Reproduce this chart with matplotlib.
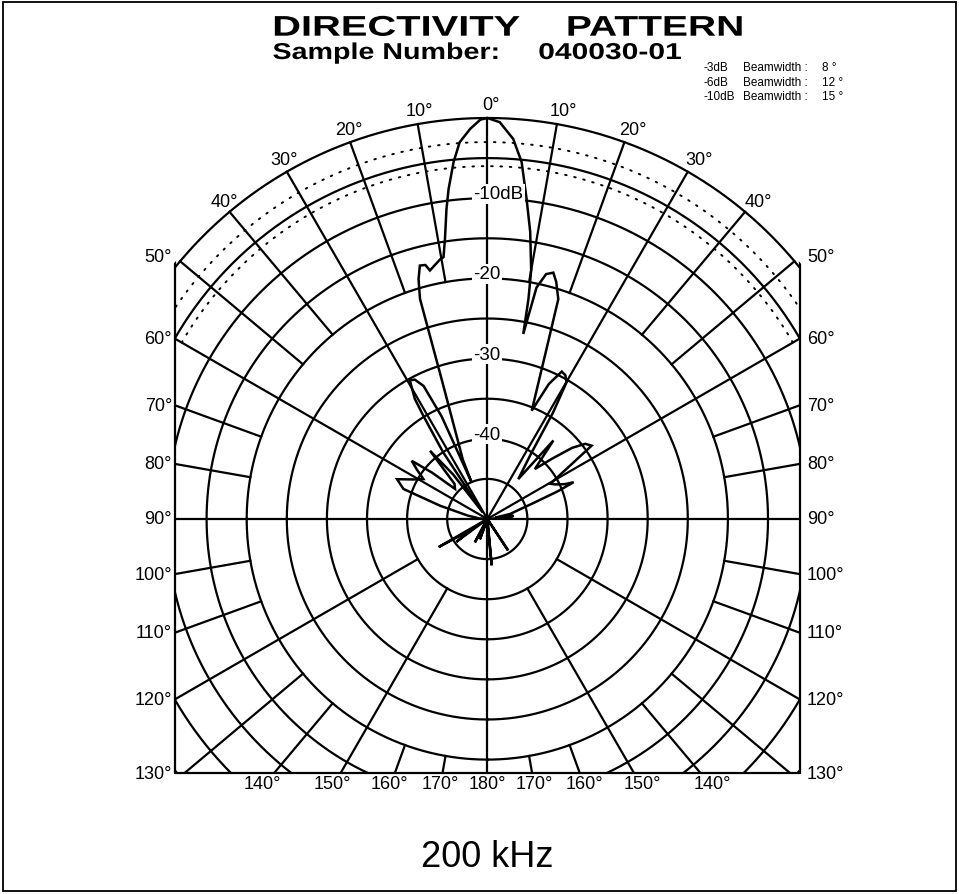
import numpy as np
import matplotlib
matplotlib.use("Agg")
import matplotlib.pyplot as plt
from matplotlib.patches import Rectangle, Circle
from matplotlib.patheffects import AbstractPathEffect
from matplotlib.transforms import Affine2D, IdentityTransform

# ---------------- data ----------------
pattern_angle_deg = [
    -180, -164, -160, -157, -154.5, -152, -149.5, -130, -126.5, -123.5, -120, -117,
    -95, -86, -80, -74.3, -70.3, -66.2, -62, -58, -55, -52.4, -50, -47, -43, -40,
    -37.5, -35, -33.5, -31.8, -31.1, -29.2, -27.5, -25.6, -24.0, -23.2, -22.4,
    -18.1, -17, -16, -14.9, -13.7, -13, -11.5, -10.3, -9.5, -8.6, -7.5, -6.7,
    -5.4, -4.2, -2.5, -1, 0, 1.8, 3.9, 5.5, 7.0, 8.5, 10.0, 10.6, 11.0, 12.0,
    13.5, 15.0, 16.2, 17.9, 19.4, 22.3, 24.5, 26.8, 28.5, 30.1, 31.7, 33.8,
    37.8, 40.1, 43.6, 47, 50, 52.5, 54.9, 57, 60.8, 63, 65.8, 66.9, 68.5, 71,
    74, 77.6, 80, 82.8, 85.5, 88, 143, 146.5, 149, 172, 174.6, 177, 180,
]
pattern_level_db = [
    -50, -50, -47.3, -50, -50, -46.7, -50, -50, -45.2, -47.5, -43, -50,
    -50, -49, -47.5, -43.9, -38.9, -37.7, -39.5, -40.6, -39.3, -38.1, -41, -44.5, -44, -38.9,
    -43, -49, -40, -34.9, -32.5, -30.2, -30.4, -31.6, -36, -45, -42,
    -31.7, -21.3, -18.9, -17.3, -17.4, -18.2, -17.6, -17.1, -16.9, -14.7, -11, -8.6,
    -5.3, -2.9, -1.3, -0.2, 0, -0.5, -2.5, -5.3, -9.8, -13.8, -18.5, -22.1, -26.5, -20.5,
    -18.6, -18.2, -19.2, -21.2, -28.3, -35.4, -31.5, -29.4, -29.6, -30.3, -34.4, -40.2,
    -43.7, -37.2, -41.4, -39, -36.2, -34.6, -34.1, -37.5, -41, -40.5, -39.4, -38.3, -40.5, -44,
    -46, -47.1, -49, -46.7, -47, -50, -50, -45.3, -50, -50, -44.2, -50, -50,
]

ring_levels_db = [-45, -40, -35, -30, -25, -20, -15, -10, -5, 0]
dotted_levels_db = [-3, -6]
level_label_db = [-10, -20, -30, -40]
level_label_text = ["-10dB", "-20", "-30", "-40"]
spoke_angles_deg = list(range(-180, 180, 10))
top_label_angles = [-40, -30, -20, -10, 0, 10, 20, 30, 40]
side_label_angles = [50, 60, 70, 80, 90, 100, 110, 120, 130]
bottom_label_angles = [140, 150, 160, 170, 180]
title_words = ["DIRECTIVITY", "PATTERN"]
sample_caption = "Sample Number:"
sample_id = "040030-01"
beam_levels = ["-3dB", "-6dB", "-10dB"]
beam_widths = [8, 12, 15]
frequency_label = "200 kHz"

# ---------------- layout ----------------
W, H, DPI = 959, 895, 100
CX, CY, R = 487.3, 520.0, 401.0          # chart centre / radius (image px)
XL, XR, YB = 175.0, 800.0, 774.0         # clipping frame (image px)
DB_MIN = -50
FONT = "Liberation Sans"
plt.rcParams["font.family"] = [FONT, "DejaVu Sans"]

fig = plt.figure(figsize=(W / DPI, H / DPI), dpi=DPI)
fig.patch.set_facecolor("white")


def fx(x):
    return x / W


def fy(y):
    return 1 - y / H


class StretchX(AbstractPathEffect):
    def __init__(self, sx, x0):
        super().__init__()
        self.sx, self.x0 = sx, x0

    def draw_path(self, renderer, gc, tpath, affine, rgbFace=None):
        a = affine + Affine2D().translate(-self.x0, 0).scale(self.sx, 1).translate(self.x0, 0)
        renderer.draw_path(gc, tpath, a, rgbFace)


ax = fig.add_axes([fx(CX - R), fy(CY + R), 2 * R / W, 2 * R / H], projection="polar")
ax.set_theta_zero_location("N")
ax.set_theta_direction(-1)
ax.set_ylim(DB_MIN, 0)
ax.set_axis_off()

clip_rect = Rectangle((fx(XL), fy(YB)), fx(XR) - fx(XL), 1 - fy(YB), transform=fig.transFigure)

LW = 1.6
full = np.linspace(-np.pi, np.pi, 1441)
for lv in ring_levels_db:
    ln, = ax.plot(full, np.full_like(full, lv), color="black", lw=LW, zorder=2)
    ln.set_clip_path(clip_rect)

part = np.deg2rad(np.linspace(-60, 60, 481))
for lv in dotted_levels_db:
    ln, = ax.plot(part, np.full_like(part, lv), color="black", lw=1.4,
                  linestyle=(0, (0.8, 4.0)), dash_capstyle="round", zorder=2)
    ln.set_clip_path(clip_rect)

for a in spoke_angles_deg:
    if a % 90 == 0 or (a % 30 == 0 and abs(a) < 90):
        r0 = DB_MIN
    elif a % 30 == 0:
        r0 = -40
    else:
        r0 = -20
    th = np.deg2rad(a)
    ln, = ax.plot([th, th], [r0, 0], color="black", lw=LW, zorder=2)
    ln.set_clip_path(clip_rect)

# frame edges, clipped by the outer circle
frame = Rectangle((XL, H - YB), XR - XL, YB - 60, fill=False, lw=LW, edgecolor="black",
                  transform=IdentityTransform(), zorder=2)
fig.add_artist(frame)
frame.set_clip_path(Circle((CX, H - CY), R + 3.5, transform=IdentityTransform()))

# directivity pattern
pl, = ax.plot(np.deg2rad(pattern_angle_deg), pattern_level_db, color="black", lw=1.8,
              zorder=3, solid_joinstyle="miter")
pl.set_clip_path(clip_rect)

# level labels on the 0 deg axis
for lv, txt in zip(level_label_db, level_label_text):
    ax.annotate(txt, xy=(0, lv), xytext=(-14, 0), textcoords="offset pixels",
                ha="left", va="baseline", fontsize=13.5, family=FONT, zorder=4,
                bbox=dict(boxstyle="square,pad=0.08", fc="white", ec="none"))

# angle labels
LBL = 13
for a in top_label_angles:
    rr = R + 14
    x = CX + rr * np.sin(np.deg2rad(a)) + 4
    y = CY - rr * np.cos(np.deg2rad(a))
    fig.text(fx(x), fy(y), f"{abs(a)}°", ha="center", va="center", fontsize=LBL, family=FONT)

for a in side_label_angles:
    t = np.deg2rad(a)
    y = CY - (CX - XL) * np.cos(t) / np.sin(t)
    y = min(y, YB + 1)
    fig.text(fx(XL - 3), fy(y), f"{a}°", ha="right", va="center", fontsize=LBL, family=FONT)
    fig.text(fx(XR + 7), fy(y), f"{a}°", ha="left", va="center", fontsize=LBL, family=FONT)

for a in bottom_label_angles:
    off = 1.055 * (YB - CY) * np.tan(np.deg2rad(180 - a))
    xs = [CX - off, CX + off] if a != 180 else [CX]
    for x in xs:
        fig.text(fx(x), fy(785), f"{a}°", ha="center", va="center", fontsize=LBL, family=FONT)

# titles (tracked lettering approximated by horizontal stretch)
for word, xc, sx in zip(title_words, [396, 655], [1.40, 1.37]):
    t = fig.text(fx(xc), fy(36.7), word, ha="center", va="baseline", fontsize=20.5,
                 fontweight="bold", family=FONT)
    t.set_path_effects([StretchX(sx, xc)])

for word, xc, sx in zip([sample_caption, sample_id], [386, 610], [1.25, 1.31]):
    t = fig.text(fx(xc), fy(60), word, ha="center", va="baseline", fontsize=16.5,
                 fontweight="bold", family=FONT)
    t.set_path_effects([StretchX(sx, xc)])

for i, (lvl, bw) in enumerate(zip(beam_levels, beam_widths)):
    y = 68 + 14.5 * i
    fig.text(fx(703), fy(y), lvl, ha="left", va="center", fontsize=8.5, family=FONT)
    fig.text(fx(743), fy(y), "Beamwidth :", ha="left", va="center", fontsize=8.5, family=FONT)
    fig.text(fx(822), fy(y), f"{bw} °", ha="left", va="center", fontsize=8.5, family=FONT)

fig.text(fx(CX), fy(858), frequency_label, ha="center", va="center", fontsize=26, family=FONT)

# outer border
border = Rectangle((3, 3), W - 6, H - 6, fill=False, lw=1.3, edgecolor="black",
                   transform=IdentityTransform())
fig.add_artist(border)

fig.savefig("out.png", dpi=DPI, facecolor="white")
